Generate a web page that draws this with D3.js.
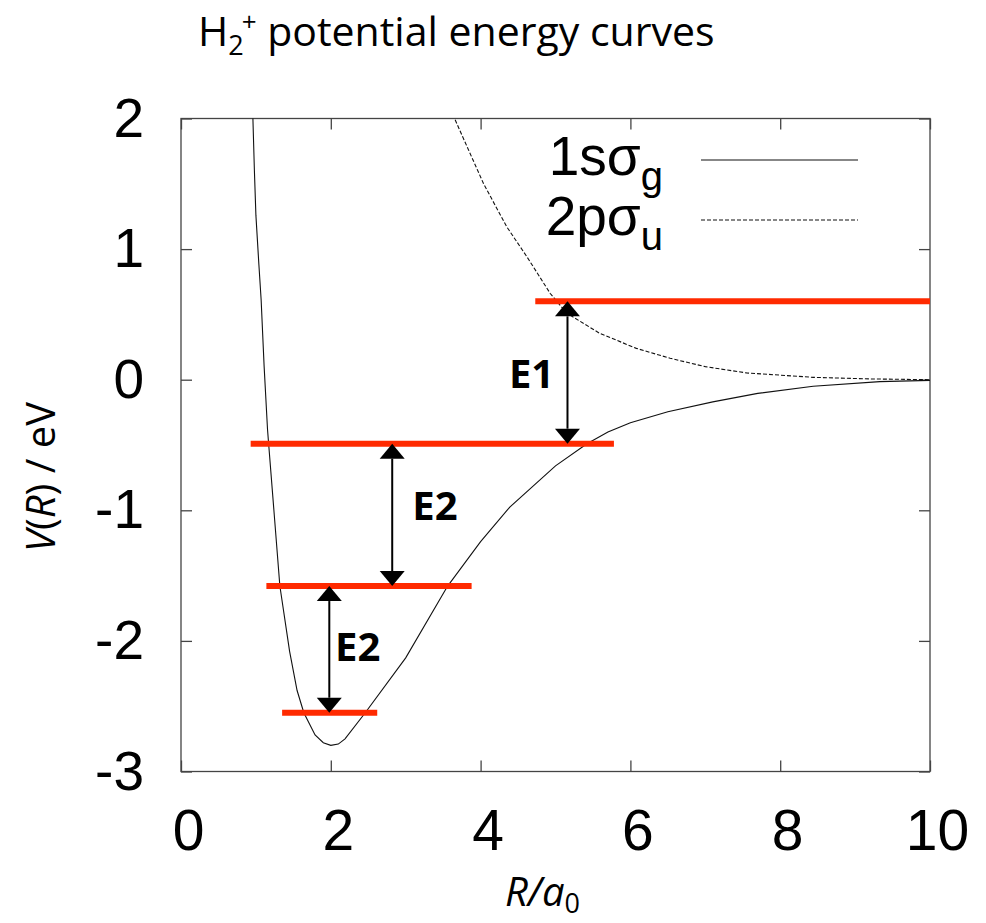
<!DOCTYPE html>
<html>
<head>
<meta charset="UTF-8">
<title>H2+ potential energy curves</title>
<script src="https://d3js.org/d3.v7.min.js"></script>
<style>
  body { margin: 0; background: #fff; }
  .tick-label { font-family: "Liberation Sans", Arial, sans-serif; font-size: 55px; fill: #000; }
  .calibri { font-family: "Open Sans", sans-serif; fill: #000; }
</style>
</head>
<body>
<div id="chart"></div>
<script>
  // 1s sigma_g curve (R in a0, V in eV)
  const rG = [0.96, 0.98, 1.0, 1.04, 1.07, 1.11, 1.155, 1.17, 1.25, 1.32, 1.45, 1.55, 1.64, 1.79, 1.9, 2.0, 2.1, 2.19, 2.46, 3.0, 3.56, 4.0, 4.39, 5.0, 5.42, 5.7, 6.0, 6.5, 7.1, 7.7, 8.44, 9.33, 10];
  const vG = [2.0, 1.6, 1.26, 0.88, 0.61, 0.1, -0.38, -0.49, -1.07, -1.58, -2.08, -2.38, -2.55, -2.72, -2.78, -2.8, -2.79, -2.75, -2.55, -2.13, -1.58, -1.24, -0.975, -0.66, -0.49, -0.4, -0.33, -0.245, -0.17, -0.105, -0.05, -0.015, -0.005];
  // 2p sigma_u curve
  const rU = [3.66, 4.04, 4.35, 4.62, 4.93, 5.15, 5.59, 6.08, 6.53, 7.0, 7.55, 8.44, 9.2, 10];
  const vU = [1.99, 1.5, 1.17, 0.94, 0.66, 0.51, 0.355, 0.24, 0.164, 0.1, 0.052, 0.018, 0.006, 0.0];

  // red energy levels
  const levelV = [0.6, -0.49, -1.58, -2.55];
  const levelStart = [4.73, 0.93, 1.14, 1.35];
  const levelEnd = [10, 5.78, 3.88, 2.62];

  // transition arrows
  const arrowR = [5.16, 2.82, 1.98];
  const arrowTop = [0.6, -0.49, -1.58];
  const arrowBottom = [-0.49, -1.58, -2.55];
  const arrowLabel = ["E1", "E2", "E2"];
  const labelR = [4.68, 3.39, 2.36];
  const labelV = [0.04, -0.97, -2.05];

  const xTicks = [0, 2, 4, 6, 8, 10];
  const yTicks = [2, 1, 0, -1, -2, -3];

  const width = 986, height = 923;
  const mLeft = 181, mRight = 930, mTop = 118.5, mBottom = 771.5;

  const svg = d3.select("#chart").append("svg")
    .attr("width", width).attr("height", height);

  const x = d3.scaleLinear().domain([0, 10]).range([mLeft, mRight]);
  const y = d3.scaleLinear().domain([-3, 2]).range([mBottom, mTop]);

  // title
  const title = svg.append("text").attr("class", "calibri")
    .attr("x", 198).attr("y", 46).style("font-size", "41px");
  title.append("tspan").text("H");
  title.append("tspan").attr("dy", 9).style("font-size", "27px").text("2");
  title.append("tspan").attr("dy", -24).attr("dx", -2).style("font-size", "26px").text("+");
  title.append("tspan").attr("dy", 15).text(" potential energy curves");

  // frame
  svg.append("rect")
    .attr("x", mLeft).attr("y", mTop)
    .attr("width", mRight - mLeft).attr("height", mBottom - mTop)
    .attr("fill", "none").attr("stroke", "#444").attr("stroke-width", 1.3);

  // axes with inward ticks, all four sides
  const tickLen = 11;
  const fmt = d => String(d);
  const axB = svg.append("g").attr("transform", `translate(0,${mBottom})`)
    .call(d3.axisBottom(x).tickValues(xTicks).tickFormat(fmt).tickSizeInner(-tickLen).tickSizeOuter(0).tickPadding(38));
  const axT = svg.append("g").attr("transform", `translate(0,${mTop})`)
    .call(d3.axisTop(x).tickValues(xTicks).tickSizeInner(-tickLen).tickSizeOuter(0).tickFormat(""));
  const axL = svg.append("g").attr("transform", `translate(${mLeft},0)`)
    .call(d3.axisLeft(y).tickValues(yTicks).tickFormat(fmt).tickSizeInner(-tickLen).tickSizeOuter(0).tickPadding(37));
  const axR = svg.append("g").attr("transform", `translate(${mRight},0)`)
    .call(d3.axisRight(y).tickValues(yTicks).tickSizeInner(-tickLen).tickSizeOuter(0).tickFormat(""));
  [axB, axT, axL, axR].forEach(a => {
    a.select(".domain").remove();
    a.selectAll(".tick line").attr("stroke", "#444").attr("stroke-width", 1.3);
    a.attr("font-size", null).attr("font-family", null);
  });
  axB.selectAll(".tick text").attr("class", "tick-label").attr("dx", 7).style("font-size", "57px");
  axL.selectAll(".tick text").attr("class", "tick-label");

  // axis titles
  const yl = svg.append("text").attr("class", "calibri")
    .attr("transform", "translate(55,477) rotate(-90)")
    .attr("text-anchor", "middle").style("font-size", "40px");
  yl.append("tspan").style("font-style", "italic").text("V");
  yl.append("tspan").text("(");
  yl.append("tspan").style("font-style", "italic").text("R");
  yl.append("tspan").text(") / eV");

  const xl = svg.append("text").attr("class", "calibri")
    .attr("x", 505).attr("y", 906).style("font-size", "40px").style("font-style", "italic");
  xl.append("tspan").text("R/a");
  xl.append("tspan").attr("dy", 7).style("font-size", "27px").style("font-style", "normal").text("0");

  // curves
  const line = d3.line().x(d => x(d[0])).y(d => y(d[1]));
  const gData = rG.map((r, i) => [r, vG[i]]);
  const uData = rU.map((r, i) => [r, vU[i]]);

  const plot = svg.append("g");
  plot.append("path").datum(gData).attr("d", line)
    .attr("fill", "none").attr("stroke", "#111").attr("stroke-width", 1.1);
  plot.append("path").datum(uData).attr("d", line)
    .attr("fill", "none").attr("stroke", "#111").attr("stroke-width", 1.1)
    .attr("stroke-dasharray", "4,2");

  // legend
  const leg = svg.append("g");
  const legText = [["1sσ", "g"], ["2pσ", "u"]];
  const legY = [160, 220];
  legText.forEach((t, i) => {
    const tx = leg.append("text").attr("class", "tick-label")
      .attr("x", 663).attr("y", legY[i] + 15).attr("text-anchor", "end");
    tx.append("tspan").text(t[0]);
    tx.append("tspan").attr("dy", 15).style("font-size", "40px").text(t[1]);
    leg.append("line").attr("x1", 701).attr("x2", 858)
      .attr("y1", legY[i]).attr("y2", legY[i])
      .attr("stroke", "#111").attr("stroke-width", 1.1)
      .attr("stroke-dasharray", i === 1 ? "4,2" : null);
  });

  // energy levels
  svg.append("g").selectAll("line").data(levelV).join("line")
    .attr("x1", (d, i) => x(levelStart[i])).attr("x2", (d, i) => x(levelEnd[i]))
    .attr("y1", d => y(d)).attr("y2", d => y(d))
    .attr("stroke", "#ff2a00").attr("stroke-width", 6);

  // arrows
  const headL = 15, headW = 12.5;
  const arrows = svg.append("g");
  arrowR.forEach((r, i) => {
    const ax = x(r), y1 = y(arrowTop[i]), y2 = y(arrowBottom[i]);
    arrows.append("line").attr("x1", ax).attr("x2", ax)
      .attr("y1", y1 + headL).attr("y2", y2 - headL)
      .attr("stroke", "#000").attr("stroke-width", 2);
    arrows.append("path")
      .attr("d", `M${ax},${y1}L${ax - headW},${y1 + headL}L${ax + headW},${y1 + headL}Z`)
      .attr("fill", "#000");
    arrows.append("path")
      .attr("d", `M${ax},${y2}L${ax - headW},${y2 - headL}L${ax + headW},${y2 - headL}Z`)
      .attr("fill", "#000");
    arrows.append("text").attr("class", "calibri")
      .attr("x", x(labelR[i])).attr("y", y(labelV[i]) + 14)
      .attr("text-anchor", "middle")
      .style("font-size", "40px").style("font-weight", "bold")
      .text(arrowLabel[i]);
  });
</script>
</body>
</html>
